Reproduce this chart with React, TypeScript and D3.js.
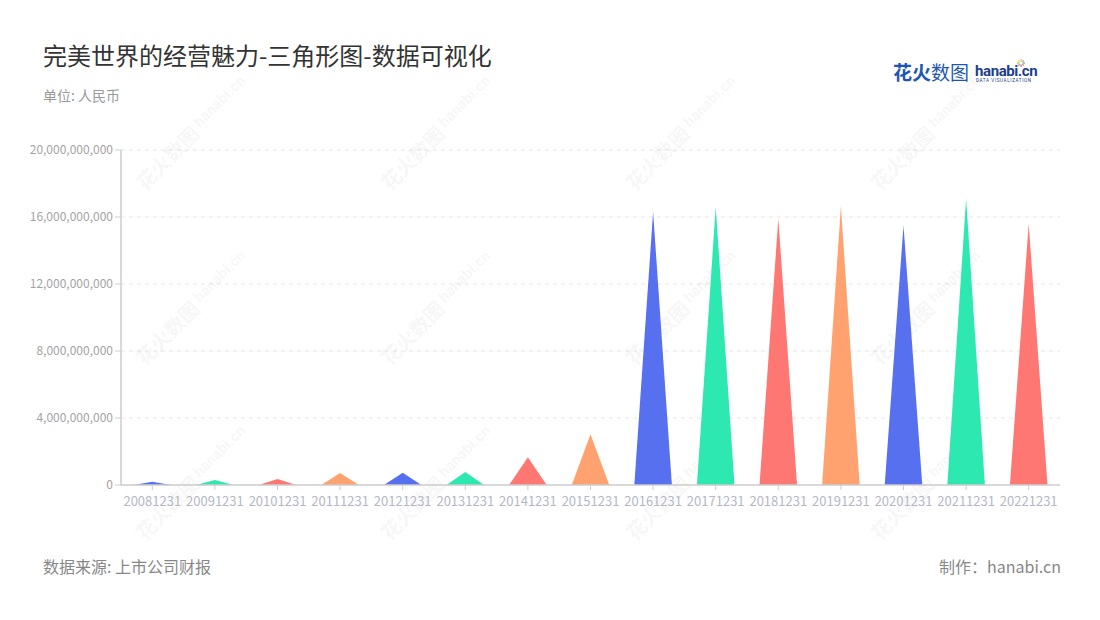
import { useMemo } from 'react';
import * as d3 from 'd3';

// reporting dates and net values (RMB)
const periods = [
  '20081231', '20091231', '20101231', '20111231', '20121231',
  '20131231', '20141231', '20151231', '20161231', '20171231',
  '20181231', '20191231', '20201231', '20211231', '20221231',
];
const values = [
  0.2e9, 0.3e9, 0.36e9, 0.72e9, 0.73e9,
  0.78e9, 1.65e9, 3.03e9, 16.3e9, 16.6e9,
  15.9e9, 16.65e9, 15.5e9, 17.1e9, 15.6e9,
];
const yTicks = [0, 4e9, 8e9, 12e9, 16e9, 20e9];
const palette = ['#5670EF', '#2EE8B2', '#FF7772', '#FFA270'];

const W = 1100;
const H = 620;
const margin = { top: 150, right: 40, bottom: 135, left: 121 };
const FONT = '"Noto Sans CJK SC", "Noto Sans", sans-serif';

// watermark grid
const markXs = [180, 425, 670, 915];
const markYs = [145, 320, 495];

export default function App() {
  const innerW = W - margin.left - margin.right;
  const innerH = H - margin.top - margin.bottom;

  const x = useMemo(
    () => d3.scaleBand<string>().domain(periods).range([0, innerW]).paddingInner(0.4).paddingOuter(0.2),
    [innerW]
  );
  const y = useMemo(() => d3.scaleLinear().domain([0, 20e9]).range([innerH, 0]), [innerH]);
  const fmt = d3.format(',');

  const triangle = (i: number) => {
    const x0 = x(periods[i])!;
    const bw = x.bandwidth();
    const p = d3.path();
    p.moveTo(x0, y(0));
    p.lineTo(x0 + bw / 2, y(values[i]));
    p.lineTo(x0 + bw, y(0));
    p.closePath();
    return p.toString();
  };

  return (
    <svg
      width={W}
      height={H}
      style={{ position: 'absolute', left: 0, top: 0, background: '#fff', fontFamily: FONT }}
    >
      {/* title block */}
      <text x={43} y={65} fontSize={24} fill="#333">完美世界的经营魅力-三角形图-数据可视化</text>
      <text x={43} y={101} fontSize={14} fill="#999">单位: 人民币</text>

      {/* logo */}
      <g>
        <text x={893} y={80} fontSize={19} fontWeight={700} fill="#1D57B3">花火</text>
        <text x={931} y={80} fontSize={19} fill="#1D57B3">数图</text>
        <text x={975} y={76} fontSize={15} fontWeight={700} fill="#1B3F8C" fontFamily="Roboto, sans-serif" letterSpacing={-0.4}>hanabi.cn</text>
        <text x={976} y={82} fontSize={4.6} fill="#1B3F8C" fontFamily="Roboto, sans-serif" letterSpacing={0.6}>DATA VISUALIZATION</text>
        {d3.range(8).map((k) => {
          const a = (Math.PI * 2 * k) / 8;
          return (
            <line
              key={k}
              x1={1021 + Math.cos(a) * 1.5}
              y1={63 + Math.sin(a) * 1.5}
              x2={1021 + Math.cos(a) * 4}
              y2={63 + Math.sin(a) * 4}
              stroke={d3.schemeSet2[k % 8]}
              strokeWidth={1.4}
            />
          );
        })}
      </g>

      <g transform={`translate(${margin.left},${margin.top})`}>
        {/* grid */}
        {yTicks.filter((t) => t > 0).map((t) => (
          <line key={t} x1={0} x2={innerW} y1={y(t)} y2={y(t)} stroke="#e6e6e6" strokeDasharray="4 4" />
        ))}

        {/* y axis */}
        <line x1={0} x2={0} y1={0} y2={innerH} stroke="#ccc" strokeWidth={1.5} />
        {yTicks.map((t) => (
          <g key={t} transform={`translate(0,${y(t)})`}>
            <line x1={-6} x2={0} stroke="#ccc" />
            <text x={-8} dy="0.35em" textAnchor="end" fontSize={12} fill="#a3a3a3">{fmt(t)}</text>
          </g>
        ))}
      </g>

      {/* watermarks */}
      <g fill="#000" fillOpacity={0.055}>
        {markYs.map((my) =>
          markXs.map((mx) => (
            <g key={`${mx}-${my}`} transform={`translate(${mx},${my}) rotate(-45)`}>
              <text x={-58} y={8} fontSize={20} fontWeight={700}>花火数图</text>
              <text x={26} y={2} fontSize={15} fontWeight={700} fontFamily="Roboto, sans-serif">hanabi.cn</text>
              <text x={27} y={8} fontSize={4.5} fontFamily="Roboto, sans-serif" letterSpacing={0.5}>DATA VISUALIZATION</text>
            </g>
          ))
        )}
      </g>

      <g transform={`translate(${margin.left},${margin.top})`}>
        {/* triangles */}
        {periods.map((p, i) => (
          <path key={p} d={triangle(i)} fill={palette[i % palette.length]} />
        ))}

        {/* x axis */}
        <line x1={0} x2={innerW} y1={innerH} y2={innerH} stroke="#ccc" strokeWidth={1.5} />
        {periods.map((p) => {
          const cx = x(p)! + x.bandwidth() / 2;
          return (
            <g key={p} transform={`translate(${cx},${innerH})`}>
              <line y1={0} y2={5} stroke="#ccc" />
              <text y={21} textAnchor="middle" fontSize={13} fill="#b4b8c4">{p}</text>
            </g>
          );
        })}
      </g>

      {/* footer */}
      <text x={43} y={573} fontSize={16} fill="#888">数据来源: 上市公司财报</text>
      <text x={1061} y={573} fontSize={16} fill="#888" textAnchor="end">制作：hanabi.cn</text>
    </svg>
  );
}
